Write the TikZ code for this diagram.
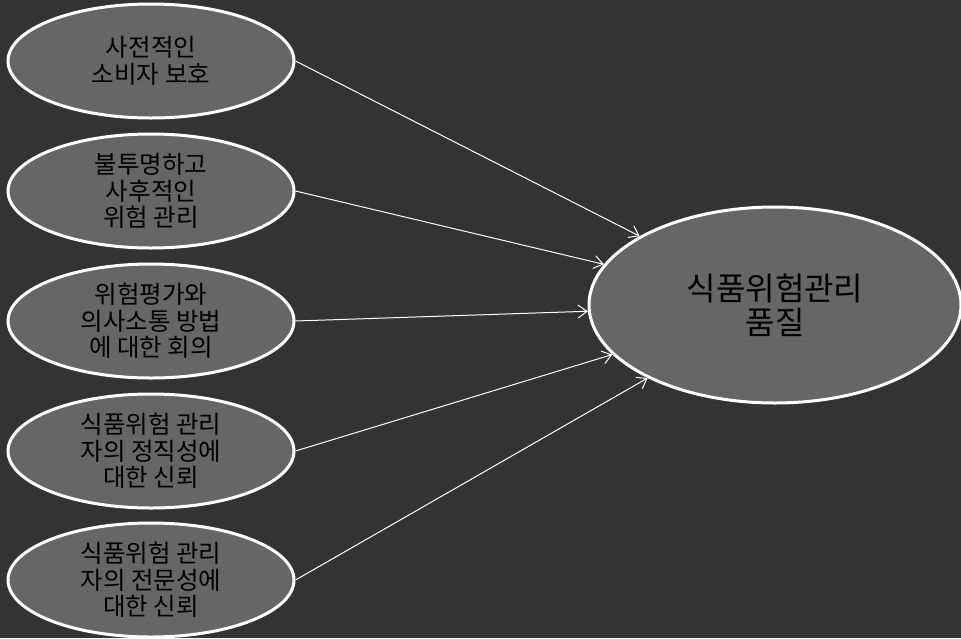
\documentclass[tikz,border=0pt]{standalone}
\usepackage{fontspec}
\setmainfont{Noto Sans CJK KR}
\usetikzlibrary{shapes.geometric,arrows.meta}
\definecolor{bg}{HTML}{333333}
\definecolor{ellfill}{HTML}{666666}
\tikzset{
  small/.style={ellipse, draw=white, line width=3pt, fill=ellfill, inner sep=0pt,
    minimum width=286pt, minimum height=114pt, align=center, text=black,
    font=\fontsize{24.5pt}{26.5pt}\selectfont},
  big/.style={ellipse, draw=white, line width=3pt, fill=ellfill, inner sep=0pt,
    minimum width=372pt, minimum height=196pt, align=center, text=black,
    font=\fontsize{32pt}{34pt}\selectfont},
  link/.style={draw=white, line width=1pt, -{Straight Barb[length=9pt,width=13pt]}}
}
\begin{document}
\begin{tikzpicture}[x=1pt,y=-1pt]
\fill[bg] (0,0) rectangle (961,638);
\useasboundingbox (0,0) rectangle (961,638);
\node[small] (a) at (151,61) {사전적인\\소비자 보호};
\node[small] (b) at (151,191) {불투명하고\\사후적인\\위험 관리};
\node[small] (c) at (151,321) {위험평가와\\의사소통 방법\\에 대한 회의};
\node[small] (d) at (151,451) {식품위험 관리\\자의 정직성에\\대한 신뢰};
\node[small] (e) at (151,580) {식품위험 관리\\자의 전문성에\\대한 신뢰};
\node[big] (q) at (775,305) {식품위험관리\\품질};
\foreach \n in {a,b,c,d,e} \draw[link] (\n.east) -- (q);
\end{tikzpicture}
\end{document}
